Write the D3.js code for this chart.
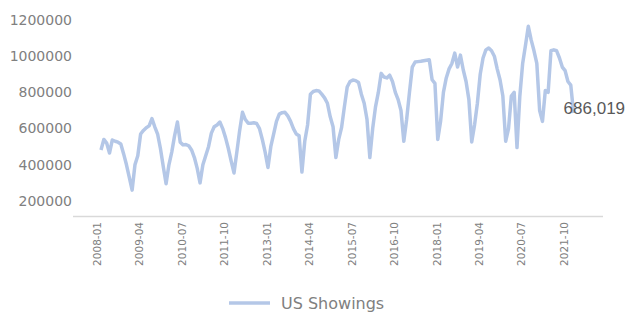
<!DOCTYPE html>
<html>
<head>
<meta charset="utf-8">
<script src="https://cdn.jsdelivr.net/npm/d3@7"></script>
<style>
  body { margin: 0; background: #fff; }
  svg { display: block; }
</style>
</head>
<body>
<div id="chart"></div>
<script>
// monthly US showings, 2008-01 .. 2021-12
const startYear = 2008;
const showings = [
  // 2008
  482000, 540000, 520000, 465000, 537000, 530000, 525000, 515000, 460000, 400000, 330000, 260000,
  // 2009
  400000, 450000, 570000, 590000, 605000, 615000, 655000, 610000, 570000, 490000, 390000, 295000,
  // 2010
  400000, 470000, 560000, 636000, 525000, 510000, 512000, 505000, 482000, 440000, 380000, 300000,
  // 2011
  400000, 450000, 500000, 575000, 610000, 620000, 636000, 600000, 550000, 490000, 420000, 355000,
  // 2012
  470000, 590000, 690000, 650000, 630000, 630000, 632000, 628000, 600000, 540000, 470000, 385000,
  // 2013
  500000, 570000, 640000, 680000, 688000, 690000, 670000, 640000, 600000, 570000, 560000, 360000,
  // 2014
  530000, 620000, 790000, 805000, 810000, 808000, 790000, 770000, 740000, 665000, 610000, 440000,
  // 2015
  540000, 605000, 720000, 830000, 860000, 868000, 865000, 855000, 790000, 740000, 650000, 440000,
  // 2016
  600000, 720000, 800000, 905000, 885000, 880000, 895000, 860000, 800000, 760000, 700000, 530000,
  // 2017
  650000, 800000, 940000, 968000, 970000, 972000, 975000, 978000, 980000, 870000, 850000, 540000,
  // 2018
  640000, 800000, 880000, 930000, 960000, 1017000, 940000, 1006000, 925000, 860000, 760000, 526000,
  // 2019
  620000, 740000, 900000, 990000, 1035000, 1045000, 1030000, 1000000, 930000, 870000, 780000, 530000,
  // 2020
  600000, 780000, 800000, 495000, 780000, 960000, 1060000, 1165000, 1090000, 1030000, 960000, 700000,
  // 2021
  640000, 810000, 800000, 1030000, 1035000, 1030000, 990000, 940000, 920000, 860000, 840000, 686019
];
const months = showings.map((_, i) =>
  `${startYear + Math.floor(i / 12)}-${String(i % 12 + 1).padStart(2, '0')}`);
const tickLabels = ['2008-01', '2009-04', '2010-07', '2011-10', '2013-01', '2014-04',
  '2015-07', '2016-10', '2018-01', '2019-04', '2020-07', '2021-10'];
const yTicks = [200000, 400000, 600000, 800000, 1000000, 1200000];
const seriesName = 'US Showings';

const width = 626, height = 314;
const lineColor = '#b4c7e7';
const axisFont = '"DejaVu Sans", sans-serif';

const svg = d3.select('#chart').append('svg')
  .attr('width', width)
  .attr('height', height);

const x = d3.scalePoint()
  .domain(months)
  .range([101, 573.6]);

const y = d3.scaleLinear()
  .domain([117000, 1200000])
  .range([216, 20]);

// y labels (no axis line)
svg.append('g')
  .selectAll('text')
  .data(yTicks)
  .join('text')
  .attr('x', 72)
  .attr('y', d => y(d))
  .attr('dy', '0.35em')
  .attr('text-anchor', 'end')
  .attr('font-family', axisFont)
  .attr('font-size', '14px')
  .attr('fill', '#808080')
  .text(d => d);

// x axis line
svg.append('line')
  .attr('x1', 73)
  .attr('x2', 603)
  .attr('y1', 216.5)
  .attr('y2', 216.5)
  .attr('stroke', '#d9d9d9')
  .attr('stroke-width', 1.5);

svg.append('g')
  .selectAll('text')
  .data(tickLabels)
  .join('text')
  .attr('transform', d => `translate(${x(d)},222) rotate(-90)`)
  .attr('text-anchor', 'end')
  .attr('font-family', axisFont)
  .attr('font-size', '10.5px')
  .attr('fill', '#808080')
  .text(d => d);

const line = d3.line()
  .x((d, i) => x(months[i]))
  .y(d => y(d));

svg.append('path')
  .datum(showings)
  .attr('d', line)
  .attr('fill', 'none')
  .attr('stroke', lineColor)
  .attr('stroke-width', 3.5)
  .attr('stroke-linejoin', 'round');

// label on the last point
const last = showings.length - 1;
svg.append('text')
  .attr('x', x(months[last]) - 10)
  .attr('y', y(showings[last]) + 1)
  .attr('font-family', '"Liberation Sans", Arial, sans-serif')
  .attr('font-size', '17px')
  .attr('fill', '#595959')
  .text(d3.format(',')(showings[last]));

// legend
const legend = svg.append('g');
legend.append('line')
  .attr('x1', 229)
  .attr('x2', 270)
  .attr('y1', 303)
  .attr('y2', 303)
  .attr('stroke', lineColor)
  .attr('stroke-width', 3.5);
legend.append('text')
  .attr('x', 281)
  .attr('y', 303)
  .attr('dy', '0.35em')
  .attr('font-family', axisFont)
  .attr('font-size', '16px')
  .attr('fill', '#808080')
  .text(seriesName);
</script>
</body>
</html>
